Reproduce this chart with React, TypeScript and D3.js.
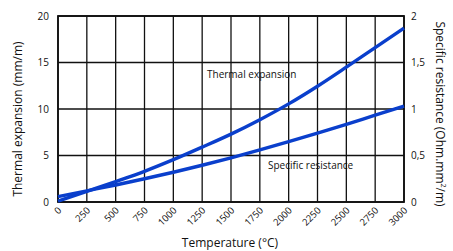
import React from "react";
import * as d3 from "d3";

// temperature (°C)
const temps = [0, 250, 500, 750, 1000, 1250, 1500, 1750, 2000, 2250, 2500, 2750, 3000];
// thermal expansion (mm/m)
const expansion = [0.1, 1.15, 2.2, 3.3, 4.55, 5.9, 7.3, 8.85, 10.55, 12.45, 14.5, 16.6, 18.7];
// specific resistance (Ohm.mm²/m)
const resistance = [0.057, 0.12, 0.183, 0.25, 0.32, 0.395, 0.475, 0.56, 0.648, 0.74, 0.835, 0.933, 1.03];
const leftTicks = [0, 5, 10, 15, 20];
const rightTicks = [0, 0.5, 1, 1.5, 2];

const W = 453, H = 251;
const m = { left: 58, right: 404, top: 16, bottom: 202 };
const font = "'Open Sans', 'Noto Sans', sans-serif";

export default function App() {
  const x = d3.scaleLinear().domain([0, 3000]).range([m.left, m.right]);
  const yL = d3.scaleLinear().domain([0, 20]).range([m.bottom, m.top]);
  const yR = d3.scaleLinear().domain([0, 2]).range([m.bottom, m.top]);

  const lineL = d3.line<number>().x((d, i) => x(temps[i])).y(d => yL(d)).curve(d3.curveMonotoneX);
  const lineR = d3.line<number>().x((d, i) => x(temps[i])).y(d => yR(d)).curve(d3.curveMonotoneX);

  return (
    <svg width={W} height={H} style={{ position: "absolute", left: 0, top: 0, background: "#fff" }} fontFamily={font}>
      {/* grid */}
      {temps.map(t => (
        <line key={"v" + t} x1={x(t)} x2={x(t)} y1={m.top} y2={m.bottom} stroke="#111" strokeWidth={1.3} />
      ))}
      {leftTicks.map(v => (
        <line key={"h" + v} x1={m.left} x2={m.right} y1={yL(v)} y2={yL(v)} stroke="#111" strokeWidth={1.3} />
      ))}
      <rect x={m.left} y={m.top} width={m.right - m.left} height={m.bottom - m.top} fill="none" stroke="#111" strokeWidth={1.8} />

      {/* curves */}
      <path d={lineL(expansion) || ""} fill="none" stroke="#0a3fcc" strokeWidth={3.4} />
      <path d={lineR(resistance) || ""} fill="none" stroke="#0a3fcc" strokeWidth={3.4} />

      {/* left axis */}
      {leftTicks.map(v => (
        <text key={"lt" + v} x={m.left - 9} y={yL(v) + 3.5} fontSize={10} textAnchor="end" fill="#111">{v}</text>
      ))}
      {/* right axis */}
      {rightTicks.map(v => (
        <text key={"rt" + v} x={m.right + 7} y={yR(v) + 3.5} fontSize={10} textAnchor="start" fill="#111">
          {String(v).replace(".", ",")}
        </text>
      ))}
      {/* x ticks */}
      {temps.map(t => (
        <text key={"xt" + t} transform={`translate(${x(t) + 4},${m.bottom + 9}) rotate(-45)`} fontSize={9.5} textAnchor="end" fill="#111">{t}</text>
      ))}

      {/* titles */}
      <text x={230} y={247} fontSize={12} textAnchor="middle" fill="#111">Temperature (°C)</text>
      <text transform={`translate(22,${(m.top + m.bottom) / 2 + 10}) rotate(-90)`} fontSize={12} textAnchor="middle" fill="#111">Thermal expansion (mm/m)</text>
      <text transform={`translate(436,${(m.top + m.bottom) / 2 + 5}) rotate(90)`} fontSize={12} textAnchor="middle" fill="#111">
        Specific resistance (Ohm.mm<tspan fontSize={7} dy={-5}>2</tspan><tspan dy={5}>/m)</tspan>
      </text>

      {/* series labels */}
      <text x={207} y={78} fontSize={10} fill="#111">Thermal expansion</text>
      <text x={268} y={169} fontSize={10} fill="#111">Specific resistance</text>
    </svg>
  );
}
